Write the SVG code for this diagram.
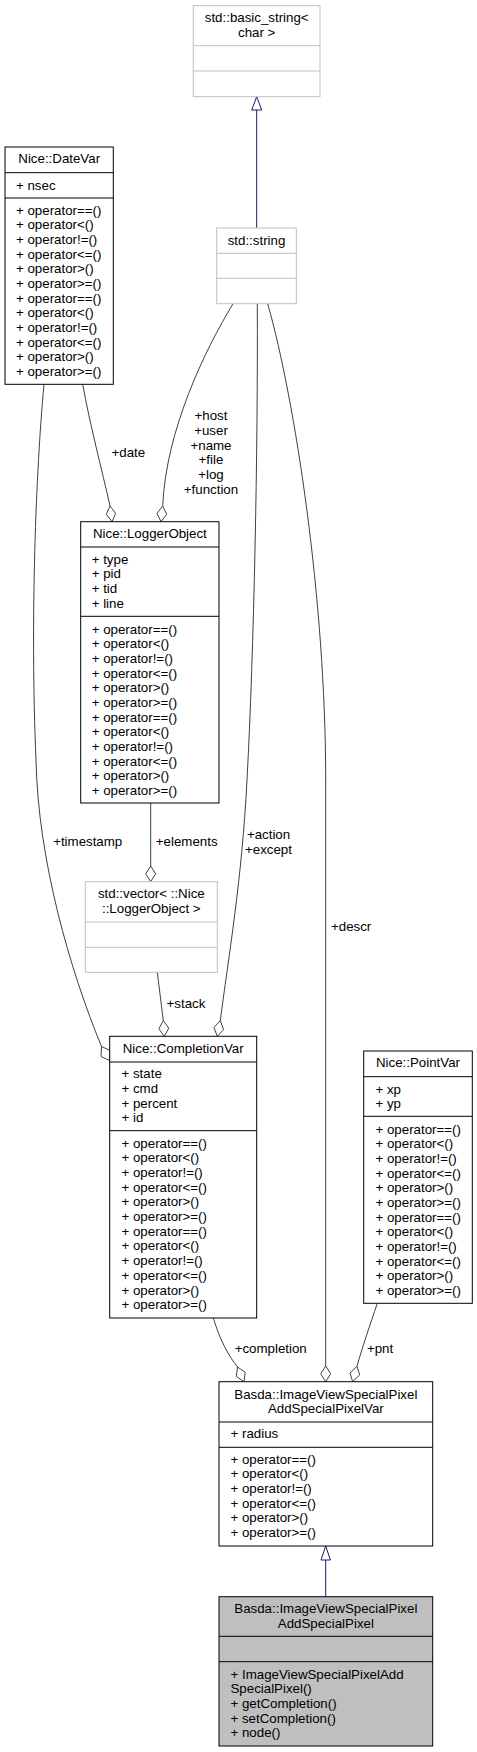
<svg xmlns="http://www.w3.org/2000/svg" width="477" height="1752" viewBox="0 0 477 1752">
<style>
text{font-family:"Liberation Sans",Arial,sans-serif;font-size:13.3px;fill:#000}
.m{text-anchor:middle}
.box{fill:#fff;stroke:#000;stroke-width:1}
.gbox{fill:#fff;stroke:#bfbfbf;stroke-width:1}
.cur{fill:#bfbfbf;stroke:#000;stroke-width:1}
.dv{stroke:#000;stroke-width:1}
.gdv{stroke:#bfbfbf;stroke-width:1}
.e{fill:none;stroke:#404040;stroke-width:1}
.dia{fill:#fff;stroke:#404040;stroke-width:1}
.inh{fill:none;stroke:#191970;stroke-width:1}
.tri{fill:#fff;stroke:#191970;stroke-width:1}
</style>
<rect width="477" height="1752" fill="#fff"/>
<g id="connectors">
<path class="inh" d="M256.7,228 L256.7,110"/>
<polygon class="tri" points="256.7,96.7 251.7,110 261.7,110"/>
<path class="e" d="M82.7,384.3 C90,425 102,470 110,506"/>
<polygon class="dia" points="112,521.7 115.7,513.4 110,506 106.3,514.3"/>
<path class="e" d="M233,303.7 C205,350 166,430 162.7,506"/>
<polygon class="dia" points="161,521.7 166.7,514.3 162.7,506 157,513.4"/>
<path class="e" d="M44,384.3 C36,470 30,620 36,760 C38,860 70,970 101.5,1046.5"/>
<polygon class="dia" points="109.7,1060.5 110.2,1050.5 101.5,1046.5 101,1056.5"/>
<path class="e" d="M150.7,803 L150.7,866"/>
<polygon class="dia" points="150.7,881.7 155.7,873.8 150.7,866 145.7,873.8"/>
<path class="e" d="M157.3,972.3 L163.3,1020.7"/>
<polygon class="dia" points="164.3,1036.3 168.8,1028.2 163.3,1020.7 158.8,1028.8"/>
<path class="e" d="M257.3,303.7 C258,450 254,650 247,780 C242,880 228,960 220.3,1020.7"/>
<polygon class="dia" points="217.3,1036.3 223.7,1029.5 220.3,1020.7 213.9,1027.5"/>
<path class="e" d="M267.7,303.7 C295,400 325.7,600 325.7,780 L325.7,1366"/>
<polygon class="dia" points="325.7,1381.7 330.7,1373.8 325.7,1366 320.7,1373.8"/>
<path class="e" d="M213.3,1318 C220,1340 228,1355 237.5,1367"/>
<polygon class="dia" points="244,1381.7 245.2,1372.3 237.5,1367 236.3,1376.4"/>
<path class="e" d="M377.3,1303.3 C370,1325 362,1348 357,1366.3"/>
<polygon class="dia" points="352.7,1381.7 359.7,1375 357,1366.3 350,1373"/>
<path class="inh" d="M325.7,1596.7 L325.7,1560"/>
<polygon class="tri" points="325.7,1546 321,1560 330.4,1560"/>
<text class="m" x="211" y="420.2">+host</text>
<text class="m" x="211" y="434.9">+user</text>
<text class="m" x="211" y="449.5">+name</text>
<text class="m" x="211" y="464.2">+file</text>
<text class="m" x="211" y="478.9">+log</text>
<text class="m" x="211" y="493.5">+function</text>
<text class="m" x="128.3" y="457.2">+date</text>
<text class="m" x="87.7" y="846.2">+timestamp</text>
<text class="m" x="186.7" y="846.2">+elements</text>
<text class="m" x="268.5" y="839.2">+action</text>
<text class="m" x="268.5" y="853.9">+except</text>
<text x="331" y="931.2">+descr</text>
<text class="m" x="186" y="1008.2">+stack</text>
<text class="m" x="270.7" y="1353.2">+completion</text>
<text class="m" x="380" y="1353.2">+pnt</text>
</g>
<g id="basic_string">
<rect class="gbox" x="193.3" y="5.7" width="126.7" height="91"/>
<line class="gdv" x1="193.3" y1="45.7" x2="320" y2="45.7"/>
<line class="gdv" x1="193.3" y1="71" x2="320" y2="71"/>
<text class="m" x="256.7" y="22.2">std::basic_string&lt;</text>
<text class="m" x="256.7" y="36.9">char &gt;</text>
</g>
<g id="string">
<rect class="gbox" x="216.7" y="228" width="79.6" height="75.7"/>
<line class="gdv" x1="216.7" y1="253.3" x2="296.3" y2="253.3"/>
<line class="gdv" x1="216.7" y1="278.3" x2="296.3" y2="278.3"/>
<text class="m" x="256.5" y="244.5">std::string</text>
</g>
<g id="DateVar">
<rect class="box" x="5" y="147" width="108.3" height="237.3"/>
<line class="dv" x1="5" y1="172.7" x2="113.3" y2="172.7"/>
<line class="dv" x1="5" y1="198" x2="113.3" y2="198"/>
<text class="m" x="59.2" y="163.2">Nice::DateVar</text>
<text x="16" y="189.5">+ nsec</text>
<text x="16" y="214.5"><tspan x="16">+ operator==()</tspan><tspan x="16" dy="14.67">+ operator&lt;()</tspan><tspan x="16" dy="14.67">+ operator!=()</tspan><tspan x="16" dy="14.67">+ operator&lt;=()</tspan><tspan x="16" dy="14.67">+ operator&gt;()</tspan><tspan x="16" dy="14.67">+ operator&gt;=()</tspan><tspan x="16" dy="14.67">+ operator==()</tspan><tspan x="16" dy="14.67">+ operator&lt;()</tspan><tspan x="16" dy="14.67">+ operator!=()</tspan><tspan x="16" dy="14.67">+ operator&lt;=()</tspan><tspan x="16" dy="14.67">+ operator&gt;()</tspan><tspan x="16" dy="14.67">+ operator&gt;=()</tspan></text>
</g>
<g id="LoggerObject">
<rect class="box" x="80.7" y="521.7" width="138.3" height="281.3"/>
<line class="dv" x1="80.7" y1="547" x2="219" y2="547"/>
<line class="dv" x1="80.7" y1="616.3" x2="219" y2="616.3"/>
<text class="m" x="149.9" y="538.2">Nice::LoggerObject</text>
<text x="91.7" y="563.5"><tspan x="91.7">+ type</tspan><tspan x="91.7" dy="14.67">+ pid</tspan><tspan x="91.7" dy="14.67">+ tid</tspan><tspan x="91.7" dy="14.67">+ line</tspan></text>
<text x="91.7" y="633.5"><tspan x="91.7">+ operator==()</tspan><tspan x="91.7" dy="14.67">+ operator&lt;()</tspan><tspan x="91.7" dy="14.67">+ operator!=()</tspan><tspan x="91.7" dy="14.67">+ operator&lt;=()</tspan><tspan x="91.7" dy="14.67">+ operator&gt;()</tspan><tspan x="91.7" dy="14.67">+ operator&gt;=()</tspan><tspan x="91.7" dy="14.67">+ operator==()</tspan><tspan x="91.7" dy="14.67">+ operator&lt;()</tspan><tspan x="91.7" dy="14.67">+ operator!=()</tspan><tspan x="91.7" dy="14.67">+ operator&lt;=()</tspan><tspan x="91.7" dy="14.67">+ operator&gt;()</tspan><tspan x="91.7" dy="14.67">+ operator&gt;=()</tspan></text>
</g>
<g id="vector">
<rect class="gbox" x="85.3" y="881.7" width="132" height="90.6"/>
<line class="gdv" x1="85.3" y1="922" x2="217.3" y2="922"/>
<line class="gdv" x1="85.3" y1="947.3" x2="217.3" y2="947.3"/>
<text class="m" x="151.3" y="897.8">std::vector&lt; ::Nice</text>
<text class="m" x="151.3" y="912.5">::LoggerObject &gt;</text>
</g>
<g id="CompletionVar">
<rect class="box" x="109.7" y="1036.3" width="147" height="281.7"/>
<line class="dv" x1="109.7" y1="1062" x2="256.7" y2="1062"/>
<line class="dv" x1="109.7" y1="1130.7" x2="256.7" y2="1130.7"/>
<text class="m" x="183.2" y="1053.2">Nice::CompletionVar</text>
<text x="121.5" y="1078.2"><tspan x="121.5">+ state</tspan><tspan x="121.5" dy="14.67">+ cmd</tspan><tspan x="121.5" dy="14.67">+ percent</tspan><tspan x="121.5" dy="14.67">+ id</tspan></text>
<text x="121.5" y="1147.8"><tspan x="121.5">+ operator==()</tspan><tspan x="121.5" dy="14.67">+ operator&lt;()</tspan><tspan x="121.5" dy="14.67">+ operator!=()</tspan><tspan x="121.5" dy="14.67">+ operator&lt;=()</tspan><tspan x="121.5" dy="14.67">+ operator&gt;()</tspan><tspan x="121.5" dy="14.67">+ operator&gt;=()</tspan><tspan x="121.5" dy="14.67">+ operator==()</tspan><tspan x="121.5" dy="14.67">+ operator&lt;()</tspan><tspan x="121.5" dy="14.67">+ operator!=()</tspan><tspan x="121.5" dy="14.67">+ operator&lt;=()</tspan><tspan x="121.5" dy="14.67">+ operator&gt;()</tspan><tspan x="121.5" dy="14.67">+ operator&gt;=()</tspan></text>
</g>
<g id="PointVar">
<rect class="box" x="363.7" y="1051" width="108.6" height="252.3"/>
<line class="dv" x1="363.7" y1="1076.7" x2="472.3" y2="1076.7"/>
<line class="dv" x1="363.7" y1="1116.3" x2="472.3" y2="1116.3"/>
<text class="m" x="418" y="1067.2">Nice::PointVar</text>
<text x="375.5" y="1093.5"><tspan x="375.5">+ xp</tspan><tspan x="375.5" dy="14.67">+ yp</tspan></text>
<text x="375.5" y="1133.5"><tspan x="375.5">+ operator==()</tspan><tspan x="375.5" dy="14.67">+ operator&lt;()</tspan><tspan x="375.5" dy="14.67">+ operator!=()</tspan><tspan x="375.5" dy="14.67">+ operator&lt;=()</tspan><tspan x="375.5" dy="14.67">+ operator&gt;()</tspan><tspan x="375.5" dy="14.67">+ operator&gt;=()</tspan><tspan x="375.5" dy="14.67">+ operator==()</tspan><tspan x="375.5" dy="14.67">+ operator&lt;()</tspan><tspan x="375.5" dy="14.67">+ operator!=()</tspan><tspan x="375.5" dy="14.67">+ operator&lt;=()</tspan><tspan x="375.5" dy="14.67">+ operator&gt;()</tspan><tspan x="375.5" dy="14.67">+ operator&gt;=()</tspan></text>
</g>
<g id="ImageViewSpecialPixelAddSpecialPixelVar">
<rect class="box" x="219" y="1381.7" width="213.7" height="164.3"/>
<line class="dv" x1="219" y1="1422" x2="432.7" y2="1422"/>
<line class="dv" x1="219" y1="1447.3" x2="432.7" y2="1447.3"/>
<text class="m" x="325.85" y="1398.5">Basda::ImageViewSpecialPixel</text>
<text class="m" x="325.85" y="1413">AddSpecialPixelVar</text>
<text x="230.5" y="1438">+ radius</text>
<text x="230.5" y="1463.5"><tspan x="230.5">+ operator==()</tspan><tspan x="230.5" dy="14.67">+ operator&lt;()</tspan><tspan x="230.5" dy="14.67">+ operator!=()</tspan><tspan x="230.5" dy="14.67">+ operator&lt;=()</tspan><tspan x="230.5" dy="14.67">+ operator&gt;()</tspan><tspan x="230.5" dy="14.67">+ operator&gt;=()</tspan></text>
</g>
<g id="ImageViewSpecialPixelAddSpecialPixel">
<rect class="cur" x="219" y="1596.7" width="213.7" height="149.3"/>
<line class="dv" x1="219" y1="1636.3" x2="432.7" y2="1636.3"/>
<line class="dv" x1="219" y1="1661.7" x2="432.7" y2="1661.7"/>
<text class="m" x="325.85" y="1613.2">Basda::ImageViewSpecialPixel</text>
<text class="m" x="325.85" y="1627.5">AddSpecialPixel</text>
<text x="230.5" y="1678.5"><tspan x="230.5">+ ImageViewSpecialPixelAdd</tspan><tspan x="230.5" dy="14.67">SpecialPixel()</tspan><tspan x="230.5" dy="14.67">+ getCompletion()</tspan><tspan x="230.5" dy="14.67">+ setCompletion()</tspan><tspan x="230.5" dy="14.67">+ node()</tspan></text>
</g>
</svg>
